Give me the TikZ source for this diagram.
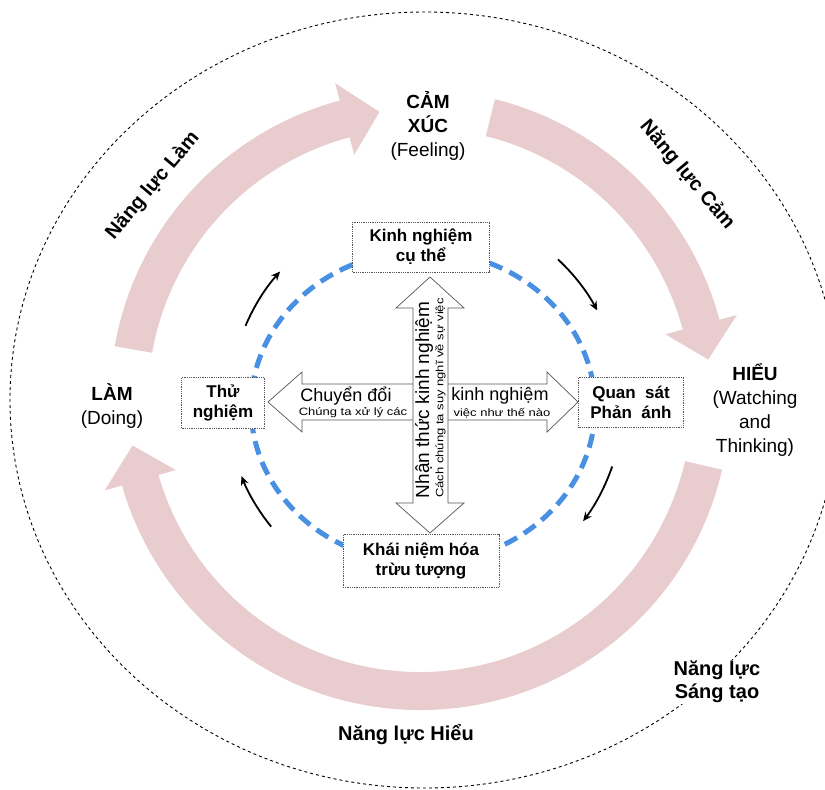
\documentclass[tikz,border=0pt]{standalone}
\usepackage{fontspec}
\setmainfont{Liberation Sans}
\usepackage{graphicx}
\usetikzlibrary{arrows.meta}
\definecolor{pinkarc}{RGB}{232,204,206}
\definecolor{bluec}{RGB}{74,144,226}
\definecolor{boxline}{RGB}{85,85,85}
\newcommand{\fs}[2]{\fontsize{#1}{#2}\selectfont}
\newcommand{\smtxt}[1]{\scalebox{1}[0.82]{\fs{13}{13}#1}}
\newcommand{\pinkarrow}[3]{%
  \fill[pinkarc] (#1:310) arc[start angle=#1, end angle=#2, radius=310]
    -- (#2:328) -- (#3:291) -- (#2:254) -- (#2:272)
    arc[start angle=#2, end angle=#1, radius=272] -- cycle;}
\begin{document}
\begin{tikzpicture}[x=1pt,y=1pt,
  lbl/.style={font=\bfseries\fs{20}{23}, align=center, inner sep=1pt, fill=white},
  outer/.style={font=\fs{19}{24}, align=center, inner sep=1pt, fill=white},
  stagebox/.style={draw=boxline, densely dotted, line width=0.8pt, fill=white,
    align=center, font=\bfseries\fs{17}{20}, inner sep=0pt},
  blockarrow/.style={draw=boxline, line width=0.7pt, fill=white, line join=miter},
  cyc/.style={line width=1.8pt, -{Stealth[length=9pt,width=8pt]}},
  bigtxt/.style={font=\fs{18}{18}, inner sep=0pt},
  smalltxt/.style={inner sep=0pt},
]
\useasboundingbox (0,0) rectangle (825,-790);
\clip (0,0) rectangle (825,-790);

% outer dashed ellipse
\draw[line width=0.9pt, dash pattern=on 3pt off 3pt] (424.5,-400) ellipse[x radius=414.5, y radius=388];

% pink cycle arrows
\begin{scope}[shift={(420,-400)}]
  \pinkarrow{170}{105}{98}
  \pinkarrow{76}{15}{8}
  \pinkarrow{-13}{-164}{-171}
\end{scope}

% blue dashed ellipse
\draw[bluec, line width=5pt, dash pattern=on 14pt off 8pt] (423,-407) ellipse[x radius=172, y radius=156];

% small black cycle arrows
\begin{scope}[shift={(425,-402)}]
  \draw[cyc] (157:195) arc[start angle=157, end angle=138, radius=195];
  \draw[cyc] (47:195) arc[start angle=47, end angle=28, radius=195];
  \draw[cyc] (-19:198) arc[start angle=-19, end angle=-37, radius=198];
  \draw[cyc] (219:198) arc[start angle=219, end angle=202, radius=198];
\end{scope}

% stage boxes
\node[stagebox, minimum width=137pt, minimum height=50pt] (ku) at (421,-247) {Kinh nghiệm\\cụ thể};
\node[stagebox, minimum width=83pt, minimum height=51pt] (th) at (223,-403) {Thử\\nghiệm};
\node[stagebox, minimum width=105pt, minimum height=50pt] (qs) at (631,-402) {Quan\ \ sát\\Phản\ \ ánh};
\node[stagebox, minimum width=156pt, minimum height=53pt] (kn) at (421,-561) {Khái niệm hóa\\trừu tượng};

% horizontal block arrow
\draw[blockarrow] (268,-402) -- (302,-372) -- (302,-384) -- (547,-384) -- (547,-372)
  -- (578,-402) -- (547,-432) -- (547,-420) -- (302,-420) -- (302,-432) -- cycle;
\node[bigtxt] (hl1) at (346,-396) {Chuyển đổi};
\node[smalltxt] (hl2) at (353,-413) {\smtxt{Chúng ta xử lý các}};
\node[bigtxt] (hr1) at (500,-396) {kinh nghiệm};
\node[smalltxt] (hr2) at (502,-413) {\smtxt{việc như thế nào}};

% vertical block arrow
\draw[blockarrow] (430,-277) -- (464,-308) -- (448,-308) -- (448,-503) -- (464,-503)
  -- (430,-533) -- (396,-503) -- (413,-503) -- (413,-308) -- (396,-308) -- cycle;
\node[bigtxt, font=\fs{19}{19}, rotate=90] (v1) at (424,-400) {Nhận thức kinh nghiệm};
\node[smalltxt, rotate=90] (v2) at (440.5,-398) {\smtxt{Cách chúng ta suy nghĩ về sự việc}};

% outer stage labels
\node[outer] (cx) at (428,-126) {\textbf{CẢM}\\\textbf{XÚC}\\(Feeling)};
\node[outer] (hieu) at (755,-410) {\textbf{HIỂU}\\(Watching\\and\\Thinking)};
\node[outer] (lam) at (112,-406) {\textbf{LÀM}\\(Doing)};

% competence labels
\node[lbl, rotate=50] (nlL) at (153,-186) {Năng lực Làm};
\node[lbl, rotate=-50] (nlC) at (687,-175) {Năng lực Cảm};
\node[lbl] (nlH) at (406,-735) {Năng lực Hiểu};
\node[lbl] (nlS) at (717,-682) {Năng lực\\Sáng tạo};
\end{tikzpicture}
\end{document}
